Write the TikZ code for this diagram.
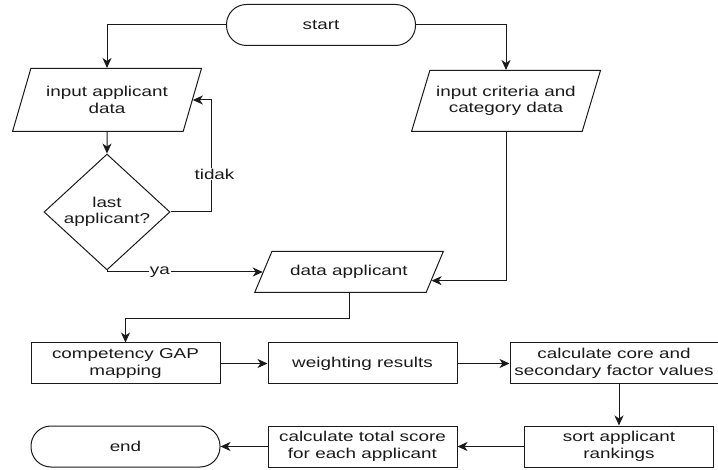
\documentclass[tikz,border=0pt]{standalone}
\usepackage{fontspec}
\setmainfont{Liberation Sans}[FakeStretch=1.32]
\usepackage{tikz}
\usetikzlibrary{positioning,arrows.meta,calc,shapes.geometric}
\definecolor{ink}{HTML}{1A1A1A}
\tikzset{
  flow/.style={draw=ink, line width=1pt, text=ink, align=center, inner sep=2pt,
               font=\fontsize{14.3}{16.5}\selectfont},
  procbox/.style={flow, rectangle, minimum width=189pt, minimum height=41pt},
  termbox/.style={procbox, rounded corners=20pt},
  iobox/.style={flow, trapezium, trapezium stretches=true, minimum width=189pt},
  decbox/.style={flow, diamond, minimum width=126pt, minimum height=81pt, inner sep=0pt},
  arr/.style={draw=ink, line width=1pt, -{Stealth[length=10pt,width=9pt,inset=3pt]}},
  lbl/.style={fill=white, text=ink, inner sep=1pt, font=\fontsize{14.3}{16.5}\selectfont}
}

\begin{document}
\begin{tikzpicture}[x=1pt,y=-1pt]
  \useasboundingbox (0,0) rectangle (718,470);
  \node[termbox] (start) at (321,25) {start};
  \node[iobox, trapezium left angle=64, trapezium right angle=116,
        minimum height=63pt] (inapp) at (107,100) {input applicant\\data};
  \node[iobox, trapezium left angle=63, trapezium right angle=117,
        minimum height=61pt] (incrit) at (506,101) {input criteria and\\category data};
  \node[decbox] (last) at (107,212) {last\\applicant?};
  \node[iobox, trapezium left angle=52, trapezium right angle=128,
        minimum height=41pt] (dapp) at (349,272) {data applicant};
  \node[procbox] (gap) at (125.5,363.5) {competency GAP\\mapping};
  \node[procbox] (weight) at (362.5,363.5) {weighting results};
  \node[procbox, minimum width=208pt] (factor) at (614,363.5) {calculate core and\\secondary factor values};
  \node[procbox] (rank) at (619,446.5) {sort applicant\\rankings};
  \node[procbox] (total) at (362.5,446.5) {calculate total score\\for each applicant};
  \node[termbox] (stop) at (125.5,446.5) {end};

  \draw[arr] (start.west) -| (inapp);
  \draw[arr] (start.east) -| (incrit);
  \draw[arr] (inapp) -- (last);
  \draw[arr] (last.east) -- ++(41,0) |- (inapp) node[lbl, pos=0.17, xshift=3pt] {tidak};
  \draw[arr] (last.south) |- (dapp) node[lbl, pos=0.67] {ya};
  \draw[arr] (incrit) |- (dapp.-6);
  \draw[arr] (dapp.south) -- ++(0,25) -| (gap);
  \draw[arr] (gap) -- (weight);
  \draw[arr] (weight) -- (factor);
  \draw[arr] (rank.north |- factor.south) -- (rank);
  \draw[arr] (rank) -- (total);
  \draw[arr] (total) -- (stop);
\end{tikzpicture}
\end{document}
